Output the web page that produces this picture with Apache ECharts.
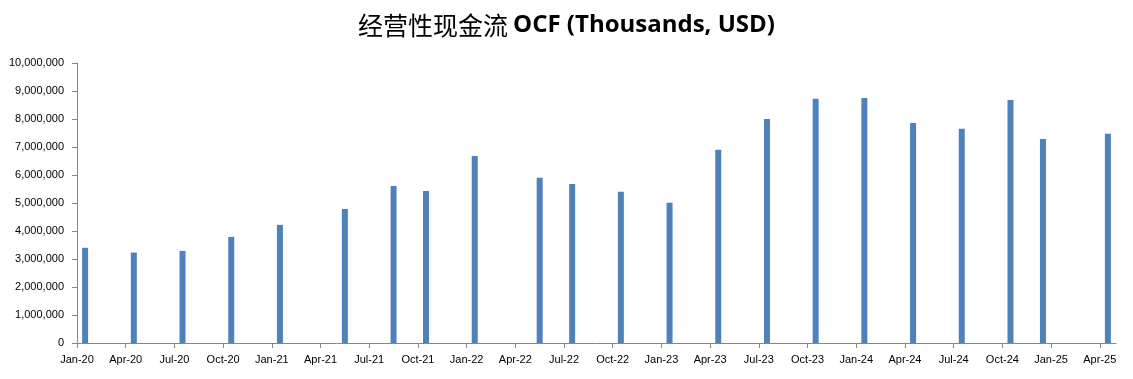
<!DOCTYPE html>
<html><head><meta charset="utf-8">
<script src="https://cdn.jsdelivr.net/npm/echarts@6/dist/echarts.min.js"></script>
<style>html,body{margin:0;padding:0;background:#fff}#c{width:1133px;height:379px}</style>
</head><body><div id="c"></div>
<script>
// Report months (year-month) and operating cash flow values (thousands USD)
const months = ['2020-01','2020-04','2020-07','2020-10','2021-01','2021-05','2021-08','2021-10','2022-01','2022-05','2022-07','2022-10','2023-01','2023-04','2023-07','2023-10','2024-01','2024-04','2024-07','2024-10','2024-12','2025-04'];
const ocf = [3400000,3230000,3290000,3790000,4220000,4790000,5610000,5430000,6680000,5900000,5680000,5400000,5010000,6900000,8000000,8720000,8750000,7860000,7650000,8680000,7290000,7470000];
const axisStart = '2020-01';
const axisEnd = '2025-05';
const tickStep = 3; // months between labels
const monNames = ['Jan','Feb','Mar','Apr','May','Jun','Jul','Aug','Sep','Oct','Nov','Dec'];

const [y0,m0] = axisStart.split('-').map(Number);
function monthIdx(s){const [y,m]=s.split('-').map(Number);return (y-y0)*12+(m-m0);}
const data = months.map((m,i)=>[monthIdx(m)+0.5,ocf[i]]);
const xmax = monthIdx(axisEnd);
const ticks = [];
for(let t=0;t<xmax;t+=tickStep) ticks.push(t);
function fmtMonth(v){const k=m0-1+Math.round(v);const y=y0+Math.floor(k/12);return monNames[k%12]+'-'+String(y%100).padStart(2,'0');}

const chart = echarts.init(document.getElementById('c'));
chart.setOption({
  animation:false,
  title:{text:'{cn|经营性现金流} {en|OCF (Thousands, USD)}',left:'center',top:8,
    textStyle:{rich:{cn:{fontFamily:'Noto Sans CJK SC',fontSize:25,fontWeight:'normal',color:'#000'},
      en:{fontFamily:'Open Sans',fontSize:24,fontWeight:'bold',color:'#000'}}}},
  grid:{left:77,right:17,top:63,bottom:36,containLabel:false},
  xAxis:{type:'value',min:0,max:xmax,interval:tickStep,
    axisLine:{lineStyle:{color:'#868686',width:1}},
    axisTick:{show:true,length:5,customValues:ticks,lineStyle:{color:'#868686'}},
    axisLabel:{customValues:ticks,color:'#000',fontFamily:'Liberation Sans',fontSize:11,margin:11,hideOverlap:false,
      formatter:fmtMonth},
    splitLine:{show:false}},
  yAxis:{type:'value',min:0,max:10000000,interval:1000000,
    axisLine:{show:true,lineStyle:{color:'#868686'}},
    axisTick:{show:true,length:5,lineStyle:{color:'#868686'}},
    axisLabel:{color:'#000',fontFamily:'Liberation Sans',fontSize:11,margin:13,
      formatter:v=>v.toLocaleString('en-US')},
    splitLine:{show:false}},
  series:[{type:'bar',data:data,barWidth:6,itemStyle:{color:'#4F81BD'}}]
});
</script></body></html>
